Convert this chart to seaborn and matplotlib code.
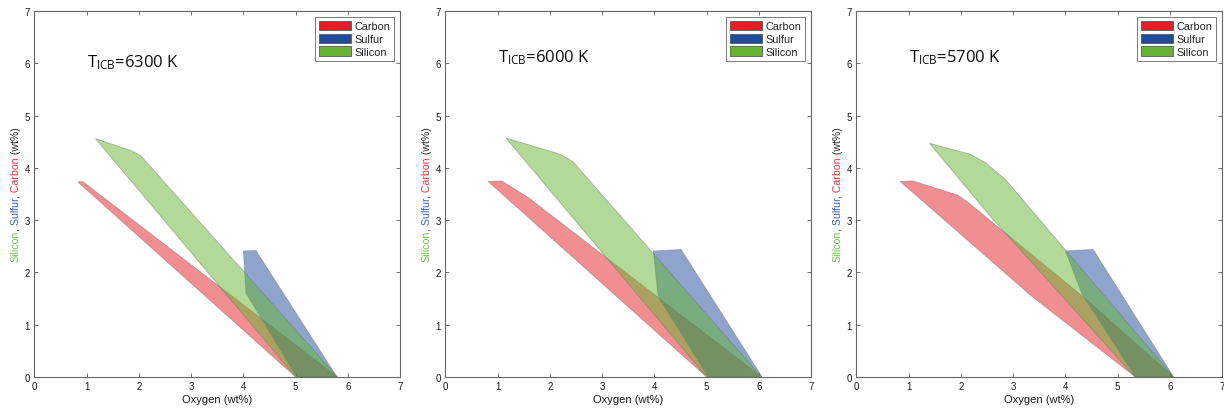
import matplotlib
matplotlib.use("Agg")
import matplotlib.pyplot as plt
from matplotlib.patches import Patch
import seaborn as sns

# ICB temperatures, one panel each
temperatures = [6300, 6000, 5700]
title_heights = [6.04, 6.12, 6.12]

# Allowed composition fields: oxygen (x) against the light element content (y), wt%
carbon_6300_o = [0.835, 0.925, 5.80, 5.00]
carbon_6300_w = [3.73, 3.74, 0.00, 0.00]
sulfur_6300_o = [4.00, 4.24, 5.79, 5.02, 4.05]
sulfur_6300_w = [2.41, 2.42, 0.00, 0.00, 1.60]
silicon_6300_o = [1.17, 1.85, 2.04, 5.80, 5.00]
silicon_6300_w = [4.56, 4.33, 4.23, 0.00, 0.00]

carbon_6000_o = [0.82, 1.08, 1.59, 6.05, 5.00]
carbon_6000_w = [3.74, 3.75, 3.43, 0.00, 0.00]
sulfur_6000_o = [3.98, 4.51, 6.06, 5.03, 4.07]
sulfur_6000_w = [2.41, 2.44, 0.00, 0.00, 1.54]
silicon_6000_o = [1.16, 2.20, 2.44, 6.05, 5.00]
silicon_6000_w = [4.57, 4.26, 4.12, 0.00, 0.00]

carbon_5700_o = [0.84, 1.08, 1.94, 2.15, 4.38, 6.07, 5.34, 3.35]
carbon_5700_w = [3.74, 3.75, 3.48, 3.33, 1.50, 0.00, 0.00, 1.55]
sulfur_5700_o = [4.00, 4.53, 6.07, 5.34, 4.32]
sulfur_5700_w = [2.41, 2.44, 0.00, 0.00, 1.58]
silicon_5700_o = [1.40, 2.18, 2.47, 2.85, 6.07, 5.33, 2.60]
silicon_5700_w = [4.47, 4.26, 4.10, 3.78, 0.00, 0.00, 3.03]

fields = {
    6300: [(carbon_6300_o, carbon_6300_w), (sulfur_6300_o, sulfur_6300_w), (silicon_6300_o, silicon_6300_w)],
    6000: [(carbon_6000_o, carbon_6000_w), (sulfur_6000_o, sulfur_6000_w), (silicon_6000_o, silicon_6000_w)],
    5700: [(carbon_5700_o, carbon_5700_w), (sulfur_5700_o, sulfur_5700_w), (silicon_5700_o, silicon_5700_w)],
}

elements = ["Carbon", "Sulfur", "Silicon"]
element_colors = ["#E41E24", "#1E4B9B", "#66B432"]
label_colors = ["#E8333A", "#3D62B3", "#72C04A"]

ticks = [0, 1, 2, 3, 4, 5, 6, 7]
x_label = "Oxygen (wt%)"
y_pieces = ["Silicon", ",", " Sulfur", ",", " Carbon", " (wt%)"]
y_piece_colors = [label_colors[2], "0.15", label_colors[1], "0.15", label_colors[0], "0.15"]

sns.set_theme(style="ticks")
plt.rcParams["font.family"] = ["Liberation Sans", "DejaVu Sans"]
plt.rcParams["mathtext.fontset"] = "custom"
plt.rcParams["mathtext.rm"] = "Open Sans"
plt.rcParams["mathtext.it"] = "Open Sans"
plt.rcParams["mathtext.default"] = "rm"

fig = plt.figure(figsize=(12.24, 4.10), dpi=100)
lefts = [0.0280, 0.3638, 0.6996]
axes = [fig.add_axes([l, 0.078, 0.299, 0.8927]) for l in lefts]

for ax, temp, ty in zip(axes, temperatures, title_heights):
    for (o, w), col in zip(fields[temp], element_colors):
        ax.fill(o, w, facecolor=col, alpha=0.5, edgecolor="0.45", linewidth=0.6)
    ax.set_xlim(0, 7)
    ax.set_ylim(0, 7)
    ax.set_xticks(ticks)
    ax.set_yticks(ticks)
    ax.tick_params(direction="in", top=True, right=True, length=3, width=0.6,
                   color="0.35", labelsize=7, labelcolor="0.1", pad=3)
    for sp in ax.spines.values():
        sp.set_color("0.4")
        sp.set_linewidth(0.8)
    ax.set_xlabel(x_label, fontsize=8, color="0.1", labelpad=2)
    ax.text(1.0, ty, r"T$_{\mathrm{ICB}}$=%d K" % temp, fontsize=12,
            family=["Open Sans", "DejaVu Sans"], ha="left", va="center", color="0.05")
    handles = [Patch(facecolor=c, edgecolor="0.35", linewidth=0.6, label=e)
               for c, e in zip(element_colors, elements)]
    leg = ax.legend(handles=handles, loc="upper right", fontsize=7.8, frameon=True,
                    fancybox=False, handlelength=3.0, handleheight=0.95, labelspacing=0.22,
                    handletextpad=0.3, borderpad=0.35, borderaxespad=0.55)
    leg.get_frame().set_edgecolor("0.35")
    leg.get_frame().set_linewidth(0.7)

# Multicoloured vertical axis label, built piece by piece
fig.canvas.draw()
renderer = fig.canvas.get_renderer()
for ax in axes:
    texts = [ax.text(-0.051, 0, s, color=c, rotation=90, fontsize=7.6, ha="center",
                     va="bottom", transform=ax.transAxes)
             for s, c in zip(y_pieces, y_piece_colors)]
    lengths = [t.get_window_extent(renderer).height for t in texts]
    box = ax.get_window_extent(renderer)
    pos = box.y0 + box.height / 2 - sum(lengths) / 2
    for t, h in zip(texts, lengths):
        t.set_position((-0.051, (pos - box.y0) / box.height))
        pos += h

fig.savefig("out.png", dpi=100)
